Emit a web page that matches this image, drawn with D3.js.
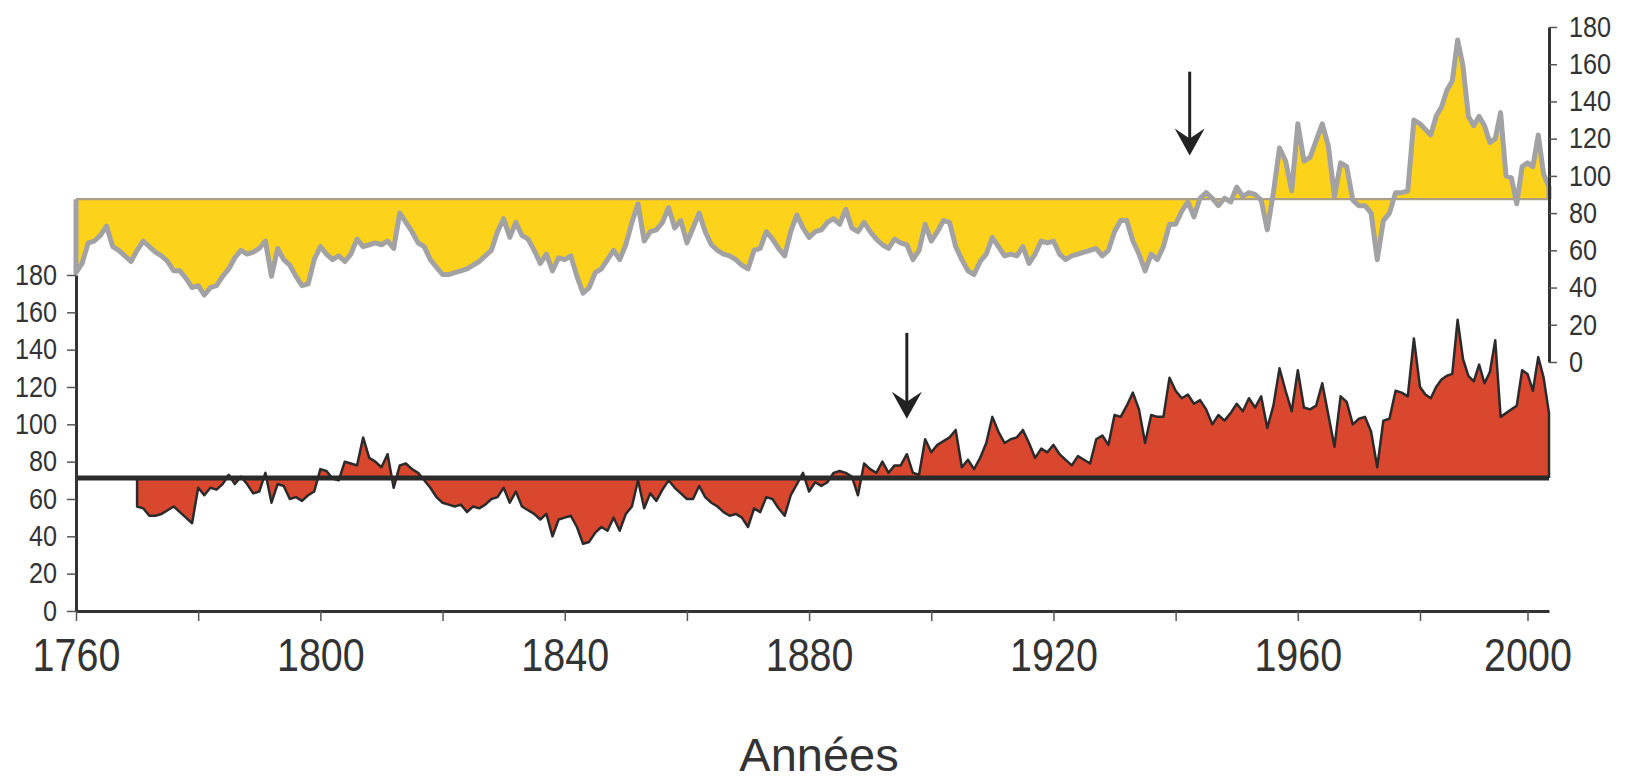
<!DOCTYPE html>
<html>
<head>
<meta charset="utf-8">
<script src="https://cdn.jsdelivr.net/npm/d3@7"></script>
<style>
html, body { margin: 0; padding: 0; background: #fff; }
svg { display: block; }
text { font-family: 'Liberation Sans', Arial, Helvetica, sans-serif; fill: #333; }
</style>
</head>
<body>
<div id="chart"></div>
<script>
// upper series (right axis), one value per year 1760-2004
var yellowYears = d3.range(1760, 2005);
var yellowValues = [
    48, 53, 64, 65, 68, 73, 62, 60, 57, 54,
    60, 65, 62, 59, 57, 54, 49, 49, 45, 40,
    41, 36, 40, 41, 46, 50, 56, 60, 58, 59,
    61, 65, 46, 61, 55, 52, 46, 41, 42, 55,
    62, 58, 55, 57, 54, 58, 66, 62, 63, 64,
    63, 65, 61, 80, 75, 70, 64, 62, 55, 51,
    47, 47, 48, 49, 50, 52, 54, 57, 60, 70,
    77, 67, 75, 68, 66, 60, 53, 58, 49, 56,
    55, 57, 46, 37, 40, 48, 50, 55, 60, 55,
    63, 75, 85, 65, 70, 71, 75, 83, 72, 76,
    64, 72, 80, 70, 63, 60, 58, 57, 55, 52,
    50, 60, 61, 70, 66, 61, 57, 70, 79, 72,
    67, 70, 71, 75, 77, 74, 82, 72, 70, 75,
    70, 66, 63, 61, 66, 64, 63, 55, 60, 74,
    65, 70, 76, 75, 62, 55, 49, 47, 54, 58,
    67, 62, 57, 58, 57, 62, 53, 58, 65, 64,
    65, 58, 55, 57, 58, 59, 60, 61, 57, 60,
    70, 76, 76, 65, 58, 49, 58, 55, 62, 74,
    74, 81, 86, 78, 88, 91, 88, 84, 88, 86,
    94, 89, 91, 90, 87, 71, 91, 115, 108, 92,
    128, 108, 110, 119, 128, 116, 89, 107, 105, 87,
    84, 84, 80, 55, 76, 80, 91, 91, 92, 130,
    128, 125, 122, 132, 137, 146, 151, 173, 159, 132,
    127, 132, 127, 118, 120, 134, 100, 99, 85, 105,
    107, 105, 122, 101, 94
];
var yellowBase = 87.5;

// lower series (left axis), one value per year 1770-2004
var redYears = d3.range(1770, 2005);
var redValues = [
    56, 55, 51, 51, 52, 54, 56, 53, 50, 47,
    66, 62, 66, 65, 68, 73, 68, 72, 68, 63,
    64, 74, 58, 68, 67, 60, 61, 59, 62, 64,
    76, 75, 71, 70, 80, 79, 78, 93, 82, 80,
    77, 84, 66, 78, 79, 76, 74, 70, 66, 61,
    58, 57, 56, 57, 53, 56, 55, 57, 60, 61,
    66, 58, 64, 56, 54, 52, 49, 52, 40, 49,
    50, 51, 45, 36, 37, 42, 45, 43, 50, 43,
    52, 56, 70, 55, 63, 59, 65, 70, 66, 63,
    60, 60, 67, 61, 58, 56, 53, 51, 52, 50,
    45, 55, 53, 61, 60, 55, 51, 62, 68, 74,
    64, 69, 67, 69, 74, 75, 74, 72, 62, 79,
    76, 74, 80, 74, 78, 78, 84, 74, 73, 92,
    85, 89, 91, 93, 97, 77, 81, 76, 82, 90,
    104, 96, 90, 92, 93, 97, 90, 82, 87, 85,
    89, 84, 81, 78, 83, 81, 79, 92, 94, 89,
    105, 104, 110, 117, 108, 90, 105, 104, 104, 125,
    118, 114, 116, 111, 113, 108, 100, 105, 102, 106,
    111, 107, 114, 109, 115, 98, 110, 130, 118, 107,
    129, 109, 108, 110, 122, 105, 88, 115, 112, 100,
    103, 104, 96, 77, 102, 103, 118, 117, 115, 146,
    120, 116, 114, 120, 124, 126, 127, 156, 135, 126,
    123, 132, 122, 128, 145, 104, 106, 108, 110, 129,
    127, 118, 136, 125, 106
];
var redBase = 71.2;

var xTicks = d3.range(1760, 2001, 20);
var xLabels = [1760, 1800, 1840, 1880, 1920, 1960, 2000];
var yTicks = [0, 20, 40, 60, 80, 100, 120, 140, 160, 180];

// arrows: year, top value, tip value, which axis
var arrowYears = [1896, 1942.3];
var arrowTops = [149, 156];
var arrowTips = [103, 111];
var arrowSides = ['left', 'right'];

var W = 1627, H = 782;
var svg = d3.select('#chart').append('svg').attr('width', W).attr('height', H);

var x = d3.scaleLinear().domain([1760, 1980, 2004]).range([76, 1420, 1549]);
var yLeft = d3.scaleLinear().domain([0, 180]).range([611, 275]);
var yRight = d3.scaleLinear().domain([0, 180]).range([362, 27]);

// upper yellow series
var yellow = yellowYears.map(function (yr, i) { return {year: yr, v: yellowValues[i]}; });
svg.append('path').datum(yellow)
    .attr('d', d3.area().x(function (d) { return x(d.year); })
        .y0(yRight(yellowBase)).y1(function (d) { return yRight(d.v); }))
    .attr('fill', '#fdd21b');
svg.append('line')
    .attr('x1', x(1760)).attr('x2', x(2004))
    .attr('y1', yRight(yellowBase)).attr('y2', yRight(yellowBase))
    .attr('stroke', '#aa9f82').attr('stroke-width', 2.2);
var yellowOutline = [{year: 1760, v: yellowBase}].concat(yellow, [{year: 2004, v: yellowBase}]);
svg.append('path').datum(yellowOutline)
    .attr('d', d3.line().x(function (d) { return x(d.year); }).y(function (d) { return yRight(d.v); }))
    .attr('fill', 'none').attr('stroke', '#a2a2a4').attr('stroke-width', 5)
    .attr('stroke-linejoin', 'round');

// lower red series
var red = redYears.map(function (yr, i) { return {year: yr, v: redValues[i]}; });
svg.append('path').datum(red)
    .attr('d', d3.area().x(function (d) { return x(d.year); })
        .y0(yLeft(redBase)).y1(function (d) { return yLeft(d.v); }))
    .attr('fill', '#d9472f');
var redOutline = [{year: 1770, v: redBase}].concat(red, [{year: 2004, v: redBase}]);
svg.append('path').datum(redOutline)
    .attr('d', d3.line().x(function (d) { return x(d.year); }).y(function (d) { return yLeft(d.v); }))
    .attr('fill', 'none').attr('stroke', '#2b2b2b').attr('stroke-width', 2.5)
    .attr('stroke-linejoin', 'round');
svg.append('line')
    .attr('x1', x(1760)).attr('x2', x(2004))
    .attr('y1', yLeft(redBase)).attr('y2', yLeft(redBase))
    .attr('stroke', '#2a2a2a').attr('stroke-width', 5);

// axes
var sx = 0.87;
var gl = svg.append('g').attr('transform', 'translate(' + x(1760) + ',0)')
    .call(d3.axisLeft(yLeft).tickValues(yTicks).tickSize(9).tickSizeOuter(0));
gl.selectAll('text').attr('x', -19 / sx).attr('transform', 'scale(' + sx + ',1)')
    .style('font-size', '29px');

var gr = svg.append('g').attr('transform', 'translate(' + x(2004) + ',0)')
    .call(d3.axisRight(yRight).tickValues(yTicks).tickSize(8).tickSizeOuter(0));
gr.selectAll('text').attr('x', 20 / sx).attr('transform', 'scale(' + sx + ',1)')
    .style('font-size', '29px');

var gb = svg.append('g').attr('transform', 'translate(0,' + yLeft(0) + ')')
    .call(d3.axisBottom(x).tickValues(xTicks).tickSize(10).tickSizeOuter(0)
        .tickFormat(function (d) { return xLabels.indexOf(d) >= 0 ? d : ''; }));
gb.selectAll('text').attr('y', 60).attr('dy', 0)
    .attr('transform', 'scale(0.84,1)').style('font-size', '47px');

[gl, gr, gb].forEach(function (g) {
    g.select('.domain').attr('stroke', '#333').attr('stroke-width', 3);
    g.selectAll('.tick line').attr('stroke', '#555').attr('stroke-width', 1.5);
    g.selectAll('text').attr('fill', '#333');
});

// arrows
arrowYears.forEach(function (yr, i) {
    var ys = arrowSides[i] === 'left' ? yLeft : yRight;
    var ax = x(yr), top = ys(arrowTops[i]), tip = ys(arrowTips[i]);
    svg.append('line').attr('x1', ax).attr('x2', ax).attr('y1', top).attr('y2', tip - 12)
        .attr('stroke', '#222').attr('stroke-width', 3);
    svg.append('path')
        .attr('d', 'M' + ax + ',' + tip + 'L' + (ax - 15) + ',' + (tip - 27) +
            'L' + ax + ',' + (tip - 17) + 'L' + (ax + 15) + ',' + (tip - 27) + 'Z')
        .attr('fill', '#222');
});

// axis title
svg.append('text').attr('x', 819).attr('y', 771).attr('text-anchor', 'middle')
    .style('font-size', '47px').attr('fill', '#333').text('Années');
</script>
</body>
</html>
